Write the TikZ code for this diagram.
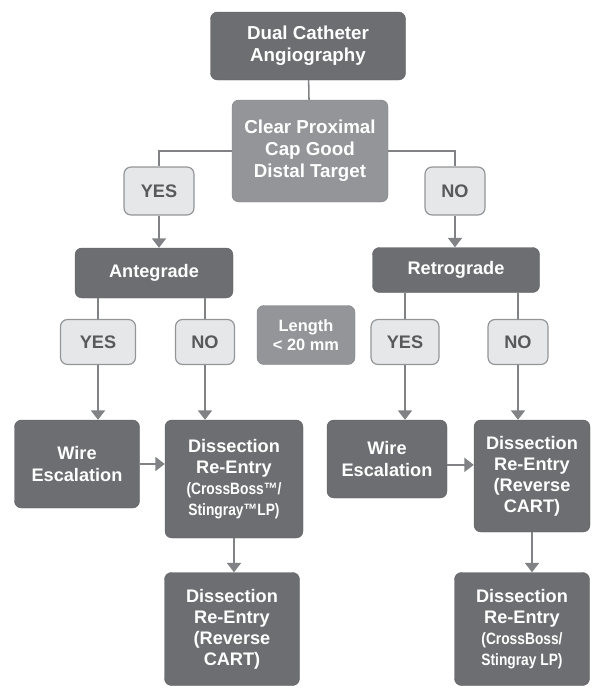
\documentclass[tikz,border=0pt]{standalone}
\usepackage{fontspec}
\setmainfont{Liberation Sans}
\usetikzlibrary{arrows.meta}

\definecolor{boxdark}{HTML}{6D6E71}
\definecolor{boxmid}{HTML}{939598}
\definecolor{boxlight}{HTML}{E6E7E8}
\definecolor{linegray}{HTML}{808285}
\definecolor{textgray}{HTML}{58595B}

\tikzset{
	boxsize/.style 2 args={minimum width=#1*0.03cm, minimum height=#2*0.03cm},
	box/.style={rectangle, rounded corners=6pt, inner sep=0pt, align=center,
		font=\bfseries\fontsize{15.5}{18}\selectfont},
	darkbox/.style={box, fill=boxdark, draw=boxdark!85!black, text=white},
	midbox/.style={box, fill=boxmid, draw=boxmid!85!black, text=white},
	answer/.style={box, fill=boxlight, draw=boxmid, line width=1pt, text=textgray},
	link/.style={draw=linegray, line width=1.3pt},
	flow/.style={link, -{Triangle[width=12pt, length=8pt]}}
}
\newcommand{\smalltext}{\fontsize{14}{17}\selectfont\addfontfeature{FakeStretch=0.84}}

\begin{document}
\begin{tikzpicture}[x=0.03cm, y=-0.03cm]
		\useasboundingbox (0, 0) rectangle (600, 699);

		\node[darkbox, boxsize={195}{68}, font=\bfseries\fontsize{16}{18.7}\selectfont] (dca) at (308, 46) {Dual Catheter\\Angiography};
		\node[midbox, boxsize={156}{102}, font=\bfseries\fontsize{16}{18.7}\selectfont] (clear) at (310, 151) {Clear Proximal\\Cap Good\\Distal Target};

		\node[answer, boxsize={70}{48}] (yes1) at (159, 191) {YES};
		\node[answer, boxsize={60}{48}] (no1) at (455, 191) {NO};

		\node[darkbox, boxsize={158}{50}] (ante) at (154, 273) {Antegrade};
		\node[darkbox, boxsize={167}{45}] (retro) at (456, 270) {Retrograde};

		\node[answer, boxsize={75}{45}] (yesA) at (98, 342) {YES};
		\node[answer, boxsize={59}{45}] (noA) at (205, 342) {NO};
		\node[midbox, boxsize={98}{59}, font=\bfseries\fontsize{14}{16.5}\selectfont] (len) at (306, 335) {Length\\< 20 mm};
		\node[answer, boxsize={68}{45}] (yesR) at (405, 342) {YES};
		\node[answer, boxsize={60}{45}] (noR) at (518, 342) {NO};

		\node[darkbox, boxsize={125}{88}] (wireA) at (77, 464) {Wire\\Escalation};
		\node[darkbox, boxsize={138}{118}] (disA) at (234, 479)
			{Dissection\\Re-Entry\\{\smalltext(CrossBoss™/}\\{\smalltext Stingray™LP)}};
		\node[darkbox, boxsize={120}{78}] (wireR) at (387, 459) {Wire\\Escalation};
		\node[darkbox, boxsize={116}{112}] (disR) at (532, 476) {Dissection\\Re-Entry\\(Reverse\\CART)};

		\node[darkbox, boxsize={135}{113}] (revA) at (232, 629) {Dissection\\Re-Entry\\(Reverse\\CART)};
		\node[darkbox, boxsize={135}{113}] (csR) at (522, 629)
			{Dissection\\Re-Entry\\{\smalltext(CrossBoss/}\\{\smalltext Stingray LP)}};

		\draw[link] (dca) -- (clear);
		\draw[link] (clear.west) -| (yes1.north);
		\draw[link] (clear.east) -| (no1.north);
		\draw[flow] (yes1.south) -- (yes1.south |- ante.north);
		\draw[flow] (no1.south) -- (no1.south |- retro.north);

		\foreach \a in {yesA, noA}{
				\draw[link] (ante.south -| \a.north) -- (\a.north);
			}
		\foreach \a in {yesR, noR}{
				\draw[link] (retro.south -| \a.north) -- (\a.north);
			}

		\draw[flow] (yesA.south) -- (yesA.south |- wireA.north);
		\draw[flow] (noA.south) -- (noA.south |- disA.north);
		\draw[flow] (yesR.south) -- (yesR.south |- wireR.north);
		\draw[flow] (noR.south) -- (noR.south |- disR.north);

		\draw[flow] (wireA.east) -- (wireA.east -| disA.west);
		\draw[flow] ([yshift=-5pt]wireR.east) -- ([yshift=-5pt]wireR.east -| disR.west);

		\draw[flow] (disA.south) -- (disA.south |- revA.north);
		\draw[flow] (disR.south) -- (disR.south |- csR.north);
	\end{tikzpicture}
\end{document}
